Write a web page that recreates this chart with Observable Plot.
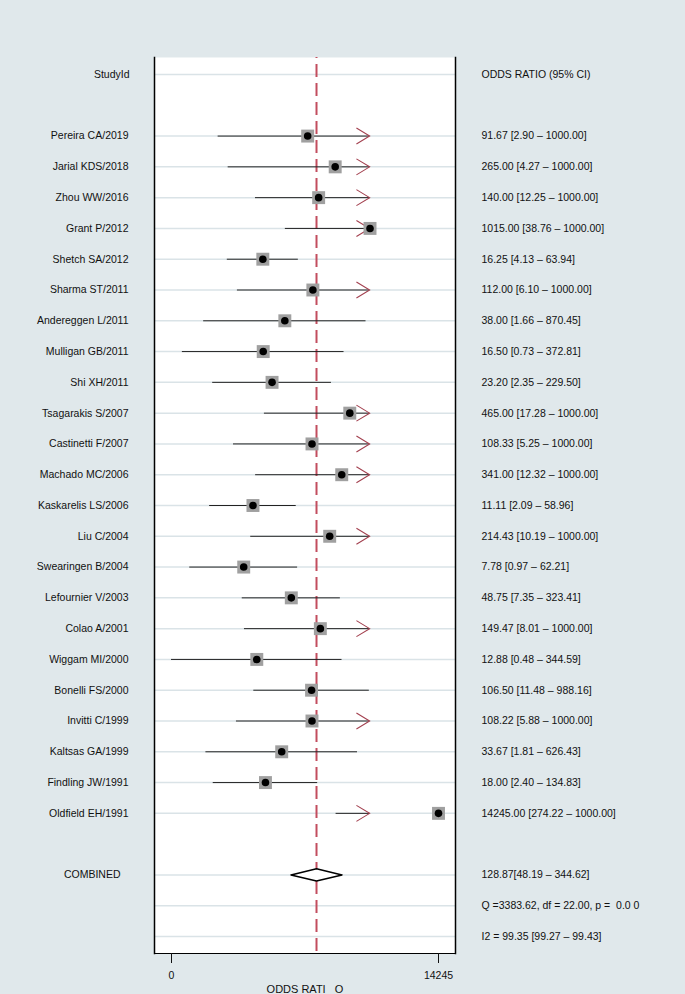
<!DOCTYPE html>
<html><head><meta charset="utf-8">
<script src="https://cdn.jsdelivr.net/npm/d3@7"></script>
<script src="https://cdn.jsdelivr.net/npm/@observablehq/plot@0.6"></script>
<style>
html,body{margin:0;padding:0;background:#e0e8eb;}
svg text{white-space:pre;}
</style></head><body><div id="chart"></div>
<script>
const studies = ["Pereira CA/2019","Jarial KDS/2018","Zhou WW/2016","Grant P/2012","Shetch SA/2012","Sharma ST/2011","Andereggen L/2011","Mulligan GB/2011","Shi XH/2011","Tsagarakis S/2007","Castinetti F/2007","Machado MC/2006","Kaskarelis LS/2006","Liu C/2004","Swearingen B/2004","Lefournier V/2003","Colao A/2001","Wiggam MI/2000","Bonelli FS/2000","Invitti C/1999","Kaltsas GA/1999","Findling JW/1991","Oldfield EH/1991"];
const estimates = [91.67,265.00,140.00,1015.00,16.25,112.00,38.00,16.50,23.20,465.00,108.33,341.00,11.11,214.43,7.78,48.75,149.47,12.88,106.50,108.22,33.67,18.00,14245.00];
const lowers = [2.90,4.27,12.25,38.76,4.13,6.10,1.66,0.73,2.35,17.28,5.25,12.32,2.09,10.19,0.97,7.35,8.01,0.48,11.48,5.88,1.81,2.40,274.22];
const uppers = [1000,1000,1000,1000,63.94,1000,870.45,372.81,229.50,1000,1000,1000,58.96,1000,62.21,323.41,1000,344.59,988.16,1000,626.43,134.83,1000];
const ciLabels = ["91.67 [2.90 – 1000.00]","265.00 [4.27 – 1000.00]","140.00 [12.25 – 1000.00]","1015.00 [38.76 – 1000.00]","16.25 [4.13 – 63.94]","112.00 [6.10 – 1000.00]","38.00 [1.66 – 870.45]","16.50 [0.73 – 372.81]","23.20 [2.35 – 229.50]","465.00 [17.28 – 1000.00]","108.33 [5.25 – 1000.00]","341.00 [12.32 – 1000.00]","11.11 [2.09 – 58.96]","214.43 [10.19 – 1000.00]","7.78 [0.97 – 62.21]","48.75 [7.35 – 323.41]","149.47 [8.01 – 1000.00]","12.88 [0.48 – 344.59]","106.50 [11.48 – 988.16]","108.22 [5.88 – 1000.00]","33.67 [1.81 – 626.43]","18.00 [2.40 – 134.83]","14245.00 [274.22 – 1000.00]"];
const truncation = 1000;
const combinedLabel = "COMBINED";
const combinedEst = 128.87, combinedLow = 48.19, combinedHigh = 344.62;
const combinedText = "128.87[48.19 – 344.62]";
const heterogeneity = ["Q =3383.62, df = 22.00, p =  0.0 0", "I2 = 99.35 [99.27 – 99.43]"];
const headerLeft = "StudyId", headerRight = "ODDS RATIO (95% CI)";
const axisTicks = [0.48, 14245];
const axisTickLabels = ["0", "14245"];
const axisTitle = "ODDS RATI   O";

// row layout: 0 header, 1 blank, 2..24 studies, 25 blank, 26 combined, 27-28 heterogeneity
const studyRows = studies.map((s, i) => ({label: s, est: estimates[i], lo: lowers[i], hi: uppers[i], text: ciLabels[i], row: i + 2}));
const arrowRows = studyRows.filter(d => d.hi >= truncation);
const combRow = 26;
const hetRows = heterogeneity.map((t, i) => ({text: t, row: 27 + i}));
const gridRows = [0, ...studyRows.map(d => d.row), combRow, ...hetRows.map(d => d.row)];
const tickRows = axisTicks.map((v, i) => ({v, label: axisTickLabels[i]}));
const dh = 0.2;
const diamond = [
  {x: combinedLow, y: combRow}, {x: combinedEst, y: combRow - dh},
  {x: combinedHigh, y: combRow}, {x: combinedEst, y: combRow + dh},
  {x: combinedLow, y: combRow}
];
const chevron = {
  draw(ctx, size) {
    const s = Math.sqrt(size / Math.PI);
    ctx.moveTo(-1.65 * s, -s);
    ctx.lineTo(0, 0);
    ctx.lineTo(-1.65 * s, s);
  }
};

const chart = Plot.plot({
  width: 685, height: 994,
  marginLeft: 154, marginRight: 230, marginTop: 57, marginBottom: 41,
  style: {background: "#e0e8eb", fontFamily: "'Liberation Sans', Arial, sans-serif", fontSize: "10.5px", color: "#111"},
  x: {type: "log", domain: [axisTicks[0], axisTicks[1]], insetLeft: 17, insetRight: 17},
  y: {domain: [0, 28], reverse: true, insetTop: 17, insetBottom: 17, axis: null},
  marks: [
    Plot.frame({fill: "white", stroke: null}),
    Plot.ruleY(gridRows, {stroke: "#dae3e7", strokeWidth: 1.5}),
    Plot.ruleX([combinedEst], {stroke: "#c24d5e", strokeWidth: 2, strokeDasharray: "13,6", strokeDashoffset: 12}),
    Plot.ruleY(studyRows, {y: "row", x1: "lo", x2: "hi", stroke: "#222", strokeWidth: 1}),
    Plot.dot(arrowRows, {x: "hi", y: "row", symbol: chevron, r: 8, fill: "none", stroke: "#a3404f", strokeWidth: 1.1}),
    Plot.dot(studyRows, {x: "est", y: "row", symbol: "square", r: 7.3, fill: "#a0a0a0", stroke: null}),
    Plot.dot(studyRows, {x: "est", y: "row", r: 3.8, fill: "black", stroke: null}),
    Plot.line(diamond, {x: "x", y: "y", stroke: "black", strokeWidth: 1.5, fill: "white"}),
    Plot.frame({anchor: "left", stroke: "black", strokeWidth: 1.5}),
    Plot.frame({anchor: "right", stroke: "black", strokeWidth: 1.5}),
    Plot.frame({anchor: "bottom", stroke: "black", strokeWidth: 1}),
    Plot.text([{t: headerLeft, row: 0}], {text: "t", y: "row", frameAnchor: "left", dx: -25, textAnchor: "end"}),
    Plot.text([{t: headerRight, row: 0}], {text: "t", y: "row", frameAnchor: "right", dx: 26, textAnchor: "start"}),
    Plot.text(studyRows, {text: "label", y: "row", frameAnchor: "left", dx: -26, textAnchor: "end"}),
    Plot.text(studyRows, {text: "text", y: "row", frameAnchor: "right", dx: 26, textAnchor: "start"}),
    Plot.text([{t: combinedLabel, row: combRow}], {text: "t", y: "row", frameAnchor: "left", dx: -34, textAnchor: "end"}),
    Plot.text([{t: combinedText, row: combRow}], {text: "t", y: "row", frameAnchor: "right", dx: 26, textAnchor: "start"}),
    Plot.text(hetRows, {text: "text", y: "row", frameAnchor: "right", dx: 26, textAnchor: "start"}),
    Plot.axisX({ticks: axisTicks, tickSize: 10, tickFormat: () => "", label: null}),
    Plot.text(tickRows, {x: "v", text: "label", frameAnchor: "bottom", dy: 22, lineAnchor: "middle", fontSize: 10.5}),
    Plot.text([axisTitle], {frameAnchor: "bottom", dy: 36, lineAnchor: "middle", fontSize: 11})
  ]
});
document.getElementById("chart").appendChild(chart);
</script></body></html>
